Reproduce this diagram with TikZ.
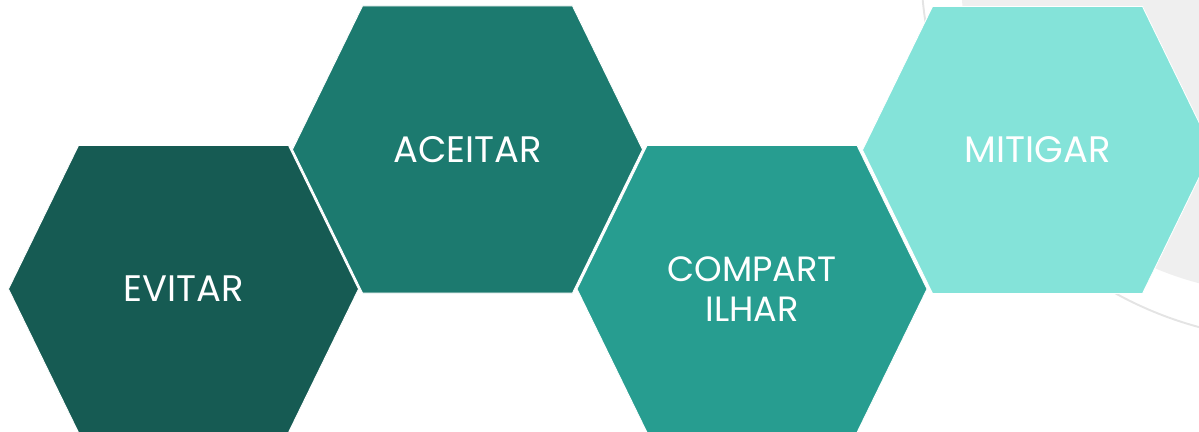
\documentclass[tikz,border=0pt]{standalone}
\usepackage{fontspec}
\setmainfont{Poppins}
\usepackage{xcolor}
\usetikzlibrary{positioning}

\definecolor{evitarCol}{HTML}{165B53}
\definecolor{aceitarCol}{HTML}{1C7A6F}
\definecolor{compartCol}{HTML}{279D90}
\definecolor{mitigarCol}{HTML}{84E3D9}
\definecolor{ringFill}{HTML}{EFEFEF}
\definecolor{ringLine}{HTML}{E4E4E4}

\begin{document}
\begin{tikzpicture}[x=0.02cm, y=-0.02cm,
hex/.style ={draw=white, line width=0.5pt},
word/.style ={text=white, inner sep=0pt, align=center,
font=\fontsize{21}{23.2}\selectfont}]
\useasboundingbox (0,0) rectangle (1199,432);
\clip (0,0) rectangle (1199,432);

% background rings, top right
\fill[ringFill] (1279.5,-25) circle[radius=318.5];
\draw[ringLine, line width=1.1pt] (1297,-36) circle[radius=376];

\coordinate (cEvitar) at (183.5,289);
\coordinate (cAceitar) at (467.5,149.5);
\coordinate (cCompart) at (752,289);
\coordinate (cMitigar) at (1037.5,150);

\fill[hex, fill=evitarCol] (cEvitar) ++(-105,-143.5) -- ++(210,0) -- ++(70,143.5) -- ++(-70,143.5) -- ++(-210,0) -- ++(-70,-143.5) -- cycle;
\fill[hex, fill=aceitarCol] (cAceitar) ++(-105,-143.5) -- ++(210,0) -- ++(70,143.5) -- ++(-70,143.5) -- ++(-210,0) -- ++(-70,-143.5) -- cycle;
\fill[hex, fill=compartCol] (cCompart) ++(-105,-143.5) -- ++(210,0) -- ++(70,143.5) -- ++(-70,143.5) -- ++(-210,0) -- ++(-70,-143.5) -- cycle;
\fill[hex, fill=mitigarCol] (cMitigar) ++(-105,-143.5) -- ++(210,0) -- ++(70,143.5) -- ++(-70,143.5) -- ++(-210,0) -- ++(-70,-143.5) -- cycle;

\node[word] (Evitar) at (cEvitar) {EVITAR};
\node[word] (Aceitar) at (cAceitar) {ACEITAR};
\node[word, font=\fontsize{20}{23}\selectfont] (Compart) at (cCompart) {COMPART\\ILHAR};
\node[word] (Mitigar) at (cMitigar) {MITIGAR};
\end{tikzpicture}
\end{document}
